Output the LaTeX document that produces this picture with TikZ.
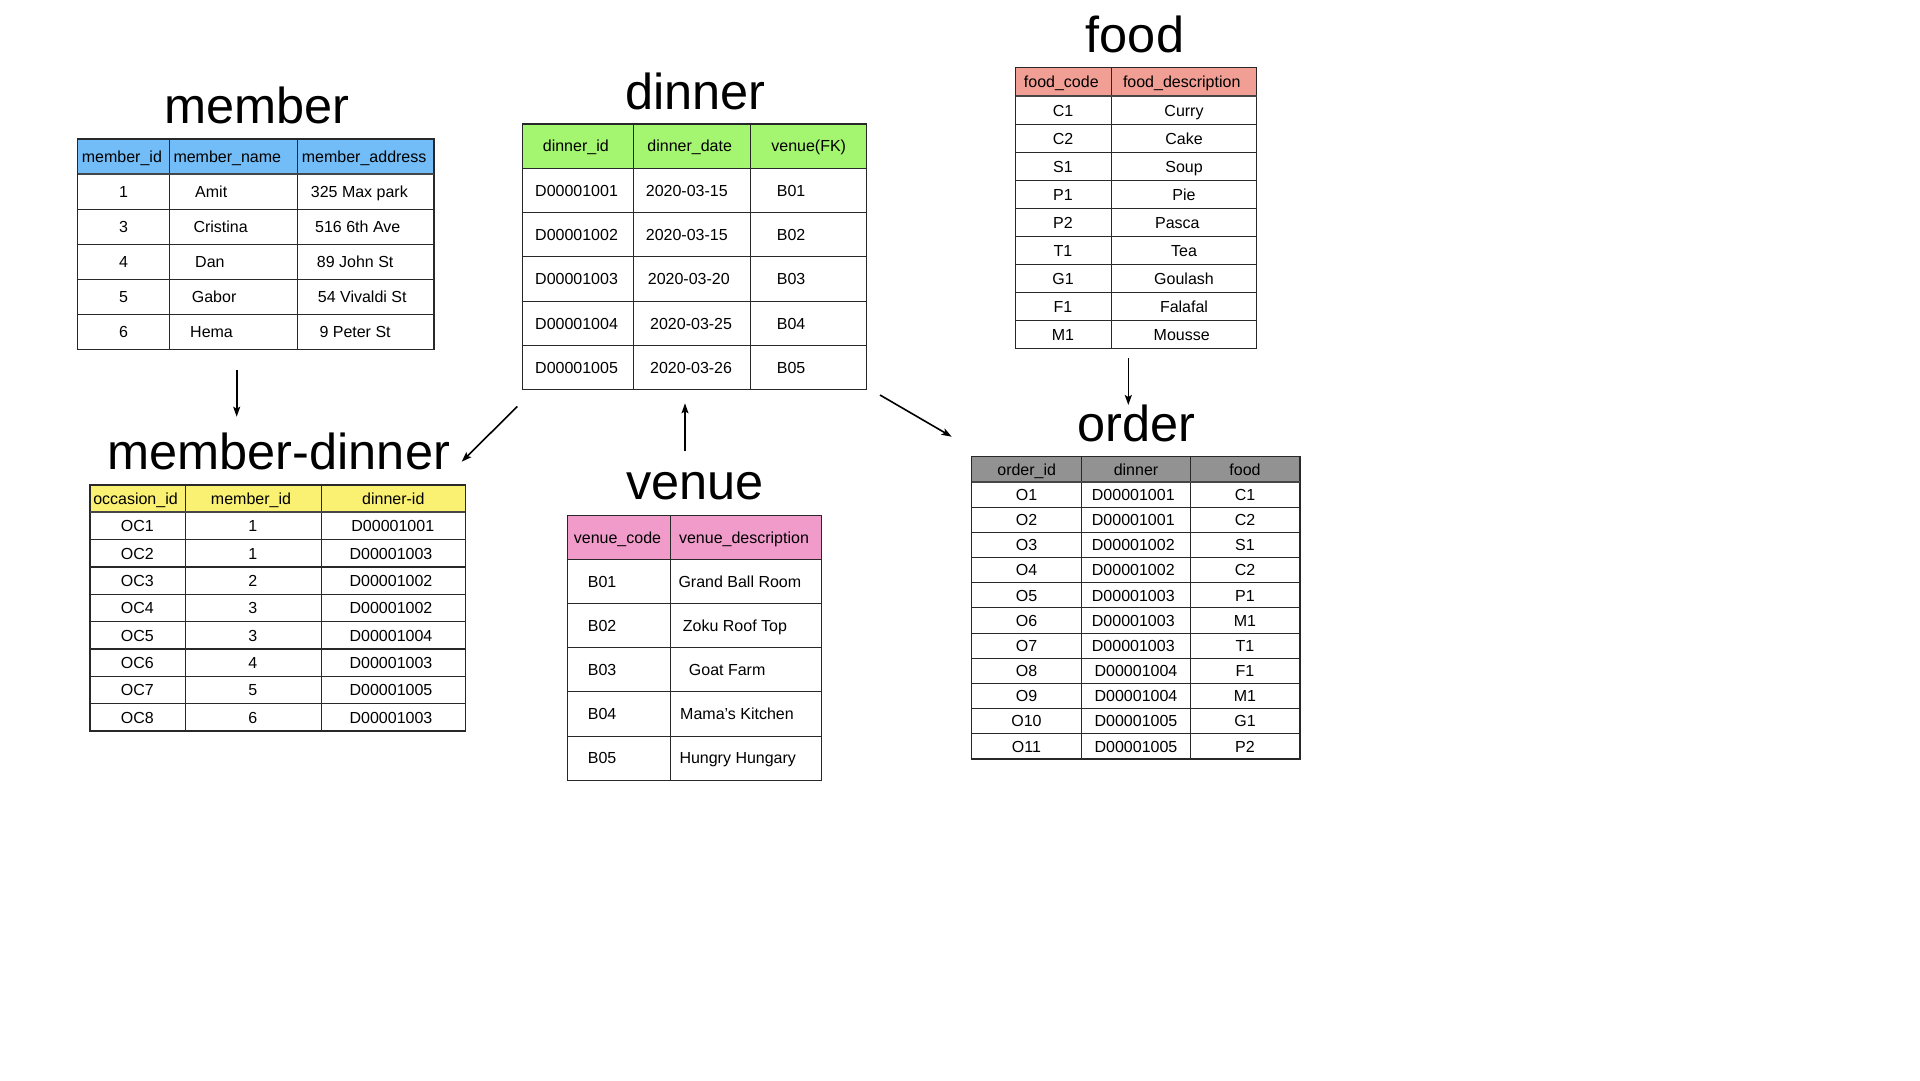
\documentclass[tikz,border=0pt]{standalone}
\usepackage{fontspec}
\setmainfont{Liberation Sans}
\usetikzlibrary{arrows.meta}
\definecolor{hblue}{RGB}{114,189,248}
\definecolor{hgreen}{RGB}{164,245,112}
\definecolor{hsalmon}{RGB}{241,158,148}
\definecolor{hyellow}{RGB}{250,240,114}
\definecolor{hpink}{RGB}{241,155,203}
\definecolor{hgray}{RGB}{146,146,146}
\definecolor{gridc}{RGB}{40,40,40}
\definecolor{sepc}{RGB}{70,70,70}
\begin{document}
\begin{tikzpicture}[x=1pt,y=-1pt,
  grid/.style={draw=gridc,line width=1.1pt},
  hsep/.style={draw=sepc,line width=2pt},
  cell/.style={inner sep=0pt,font=\fontsize{16}{19}\selectfont,text height=11.5pt,text depth=0pt},
  title/.style={inner sep=0pt,anchor=base,font=\fontsize{50.5}{60}\selectfont},
  link/.style={draw=black,line width=1.6pt,-{Stealth[length=10pt,width=7pt,inset=2pt]}}]
\useasboundingbox[fill=white] (0,0) rectangle (1920,1080);

% ---------------- member ----------------
\node[title] (t-member) at (257,123.3) {member};
\fill[hblue] (77.7,139) rectangle (434,174.3);
\foreach \k in {1,...,4}{\pgfmathsetmacro\yy{174.3+35*\k}\draw[grid] (77.7,\yy) -- (434,\yy);}
\foreach \x in {169.3,297.3}{\draw[grid] (\x,139) -- (\x,349.3);}
\draw[grid] (77.7,139) rectangle (434,349.3);
\draw[hsep] (77.7,174.3) -- (434,174.3);
\node[cell,anchor=west] (mem-h-1) at (81.7,156.7) {member\_id};
\node[cell,anchor=west] (mem-h-2) at (173.3,156.7) {member\_name};
\node[cell,anchor=west] (mem-h-3) at (301.7,156.7) {member\_address};
\foreach \a/\b/\bx/\c/\cx [count=\k] in {1/Amit/195/325 Max park/310.7, 3/Cristina/193.3/516 6th Ave/315, 4/Dan/195/89 John St/316.7, 5/Gabor/191.7/54 Vivaldi St/317.7, 6/Hema/190/9 Peter St/319.3}{
  \pgfmathsetmacro\yy{156.8+35*\k}
  \node[cell] (mem-\k-1) at (123.5,\yy) {\a};
  \node[cell,anchor=west] (mem-\k-2) at (\bx,\yy) {\b};
  \node[cell,anchor=west] (mem-\k-3) at (\cx,\yy) {\c};
}

% ---------------- dinner ----------------
\node[title] (t-dinner) at (695.5,109) {dinner};
\fill[hgreen] (522.7,124) rectangle (866.7,168.3);
\foreach \k in {0,...,4}{\pgfmathsetmacro\yy{168.3+44.3*\k}\draw[grid] (522.7,\yy) -- (866.7,\yy);}
\foreach \x in {633.3,750.7}{\draw[grid] (\x,124) -- (\x,389.8);}
\draw[grid] (522.7,124) rectangle (866.7,389.8);
\node[cell] (din-h-1) at (575.8,146.2) {dinner\_id};
\node[cell] (din-h-2) at (689.7,146.2) {dinner\_date};
\node[cell] (din-h-3) at (808.7,146.2) {venue(FK)};
\foreach \a/\b/\bx/\c [count=\k] in {D00001001/2020-03-15/645.7/B01, D00001002/2020-03-15/645.7/B02, D00001003/2020-03-20/647.7/B03, D00001004/2020-03-25/650/B04, D00001005/2020-03-26/650/B05}{
  \pgfmathsetmacro\yy{146.15+44.3*\k}
  \node[cell,anchor=west] (din-\k-1) at (535,\yy) {\a};
  \node[cell,anchor=west] (din-\k-2) at (\bx,\yy) {\b};
  \node[cell,anchor=west] (din-\k-3) at (776.7,\yy) {\c};
}

% ---------------- food ----------------
\node[title] (t-food) at (1135,52.7) {food};
\fill[hsalmon] (1015.7,67.7) rectangle (1256.7,96.3);
\foreach \k in {1,...,8}{\pgfmathsetmacro\yy{96.3+28*\k}\draw[grid] (1015.7,\yy) -- (1256.7,\yy);}
\draw[grid] (1111.3,67.7) -- (1111.3,348.3);
\draw[grid] (1015.7,67.7) rectangle (1256.7,348.3);
\draw[hsep] (1015.7,96.3) -- (1256.7,96.3);
\node[cell] (fd-h-1) at (1061.3,82) {food\_code};
\node[cell] (fd-h-2) at (1181.7,82) {food\_description};
\foreach \a/\b/\bx [count=\k] in {C1/Curry/1184, C2/Cake/1184, S1/Soup/1184, P1/Pie/1184, P2/Pasca/1177.3, T1/Tea/1184, G1/Goulash/1184, F1/Falafal/1184, M1/Mousse/1181.7}{
  \pgfmathsetmacro\yy{82.3+28*\k}
  \node[cell] (fd-\k-1) at (1063,\yy) {\a};
  \node[cell] (fd-\k-2) at (\bx,\yy) {\b};
}

% ---------------- member-dinner ----------------
\node[title] (t-md) at (278.8,469.3) {member-dinner};
\fill[hyellow] (90,485) rectangle (465.3,512.3);
\foreach \k in {1,...,7}{\pgfmathsetmacro\yy{512.3+27.34*\k}\draw[grid] (90,\yy) -- (465.3,\yy);}
\foreach \x in {185.3,321.3}{\draw[grid] (\x,485) -- (\x,731);}
\draw[grid] (90,485) rectangle (465.3,731);
\draw[hsep] (90,512.3) -- (465.3,512.3);
\node[cell] (md-h-1) at (135.5,498.6) {occasion\_id};
\node[cell] (md-h-2) at (251,498.6) {member\_id};
\node[cell] (md-h-3) at (393.3,498.6) {dinner-id};
\foreach \a/\b/\c/\cx [count=\k] in {OC1/1/D00001001/392.8, OC2/1/D00001003/391, OC3/2/D00001002/391, OC4/3/D00001002/391, OC5/3/D00001004/391, OC6/4/D00001003/391, OC7/5/D00001005/391, OC8/6/D00001003/391}{
  \pgfmathsetmacro\yy{498.63+27.34*\k}
  \node[cell] (md-\k-1) at (137.3,\yy) {\a};
  \node[cell] (md-\k-2) at (252.7,\yy) {\b};
  \node[cell] (md-\k-3) at (\cx,\yy) {\c};
}

% ---------------- venue ----------------
\node[title] (t-venue) at (695,499.3) {venue};
\fill[hpink] (567.7,515.3) rectangle (821.7,559.3);
\foreach \k in {0,...,4}{\pgfmathsetmacro\yy{559.3+44.2*\k}\draw[grid] (567.7,\yy) -- (821.7,\yy);}
\draw[grid] (670.7,515.3) -- (670.7,780.3);
\draw[grid] (567.7,515.3) rectangle (821.7,780.3);
\node[cell] (ven-h-1) at (617.5,537.3) {venue\_code};
\node[cell] (ven-h-2) at (744,537.3) {venue\_description};
\foreach \a/\b/\bx [count=\k] in {B01/Grand Ball Room/678.3, B02/Zoku Roof Top/682.7, B03/Goat Farm/688.7, B04/Mama's Kitchen/680, B05/Hungry Hungary/679.3}{
  \pgfmathsetmacro\yy{537.2+44.2*\k}
  \node[cell,anchor=west] (ven-\k-1) at (587.7,\yy) {\a};
  \node[cell,anchor=west] (ven-\k-2) at (\bx,\yy) {\b};
}

% ---------------- order ----------------
\node[title] (t-order) at (1136.7,441) {order};
\fill[hgray] (971.7,456.7) rectangle (1300,482);
\foreach \k in {1,...,10}{\pgfmathsetmacro\yy{482+25.18*\k}\draw[grid] (971.7,\yy) -- (1300,\yy);}
\foreach \x in {1081.3,1190.7}{\draw[grid] (\x,456.7) -- (\x,759);}
\draw[grid] (971.7,456.7) rectangle (1300,759);
\draw[hsep] (971.7,482) -- (1300,482);
\node[cell] (ord-h-1) at (1026.7,469.4) {order\_id};
\node[cell] (ord-h-2) at (1136,469.4) {dinner};
\node[cell] (ord-h-3) at (1245,469.4) {food};
\foreach \a/\b/\bx/\c [count=\k] in {O1/D00001001/1133.3/C1, O2/D00001001/1133.3/C2, O3/D00001002/1133.3/S1, O4/D00001002/1133.3/C2, O5/D00001003/1133.3/P1, O6/D00001003/1133.3/M1, O7/D00001003/1133.3/T1, O8/D00001004/1136/F1, O9/D00001004/1136/M1, O10/D00001005/1136/G1, O11/D00001005/1136/P2}{
  \pgfmathsetmacro\yy{469.41+25.18*\k}
  \node[cell] (ord-\k-1) at (1026.5,\yy) {\a};
  \node[cell] (ord-\k-2) at (\bx,\yy) {\b};
  \node[cell] (ord-\k-3) at (1245,\yy) {\c};
}

% ---------------- connectors ----------------
\coordinate (a1s) at (236.7,370);   \coordinate (a1e) at (236.7,416.7);
\coordinate (a2s) at (517.3,406.5); \coordinate (a2e) at (461.7,461.7);
\coordinate (a3s) at (685,450.7);   \coordinate (a3e) at (685,403.3);
\coordinate (a4s) at (880,395);     \coordinate (a4e) at (951.7,436.7);
\coordinate (a5s) at (1128.3,358.3);\coordinate (a5e) at (1128.3,405);
\draw[link] (a1s) -- (a1e);
\draw[link] (a2s) -- (a2e);
\draw[link] (a3s) -- (a3e);
\draw[link] (a4s) -- (a4e);
\draw[link] (a5s) -- (a5e);
\end{tikzpicture}
\end{document}
